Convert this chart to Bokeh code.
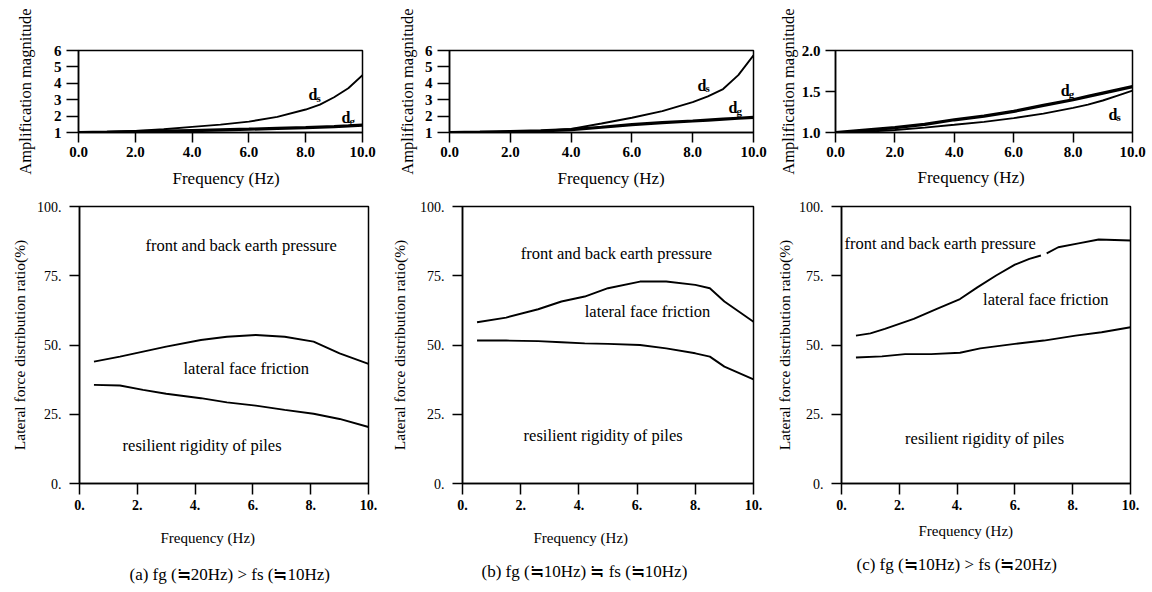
from bokeh.plotting import figure
from bokeh.models import Range1d, FixedTicker, Title
from bokeh.layouts import row, column
from bokeh.core.properties import value
from bokeh.embed import file_html
from bokeh.resources import INLINE

# ---------------- data ----------------
freq_top = [0, 1, 2, 3, 4, 5, 6, 7, 8, 8.5, 9, 9.5, 10]
a_ds = [1.0, 1.03, 1.1, 1.2, 1.34, 1.48, 1.66, 1.95, 2.4, 2.7, 3.15, 3.7, 4.5]
a_dg = [1.0, 1.02, 1.05, 1.08, 1.12, 1.16, 1.2, 1.25, 1.3, 1.33, 1.36, 1.4, 1.45]
b_ds = [1.0, 1.02, 1.05, 1.1, 1.22, 1.55, 1.9, 2.3, 2.85, 3.2, 3.65, 4.5, 5.7]
b_dg = [1.0, 1.02, 1.05, 1.1, 1.18, 1.32, 1.48, 1.6, 1.7, 1.76, 1.82, 1.87, 1.92]
c_dg = [1.0, 1.03, 1.06, 1.1, 1.155, 1.2, 1.257, 1.33, 1.4, 1.44, 1.48, 1.52, 1.56]
c_ds = [1.0, 1.01, 1.03, 1.06, 1.094, 1.13, 1.175, 1.23, 1.3, 1.34, 1.39, 1.45, 1.51]

freq_a = [0.5, 1.4, 2.2, 3.0, 4.2, 5.1, 6.1, 7.1, 8.1, 9.0, 10.0]
a_upper = [44.0, 45.8, 47.6, 49.4, 51.8, 53.0, 53.6, 53.0, 51.2, 47.0, 43.2]
a_lower = [35.6, 35.4, 33.8, 32.4, 30.8, 29.3, 28.1, 26.6, 25.2, 23.3, 20.4]

freq_b = [0.5, 1.5, 2.6, 3.4, 4.2, 5.0, 6.1, 7.0, 8.0, 8.5, 9.0, 10.0]
b_upper = [58.2, 59.9, 62.9, 65.7, 67.5, 70.5, 72.9, 72.9, 71.7, 70.5, 65.7, 58.4]
b_lower = [51.6, 51.6, 51.4, 51.0, 50.6, 50.4, 50.0, 48.8, 47.0, 45.8, 42.2, 37.6]

nan = float("nan")
freq_c_up = [0.5, 1.0, 1.5, 2.5, 3.3, 4.1, 4.7, 5.35, 6.0, 6.5, 6.9, nan, 7.1, 7.5, 8.2, 8.9, 10.0]
c_upper = [53.4, 54.2, 55.8, 59.4, 63.0, 66.6, 70.8, 75.1, 79.0, 81.1, 82.3, nan, 83.1, 85.3, 86.7, 88.1, 87.7]
freq_c_lo = [0.5, 1.4, 2.2, 3.1, 4.1, 4.8, 6.0, 7.0, 8.1, 9.0, 10.0]
c_lower = [45.5, 45.9, 46.7, 46.7, 47.2, 48.8, 50.4, 51.6, 53.4, 54.6, 56.4]

top_xticks = [0, 2, 4, 6, 8, 10]
top_xlabels = ["0.0", "2.0", "4.0", "6.0", "8.0", "10.0"]
top_yticks_ab = [1, 2, 3, 4, 5, 6]
top_ylabels_ab = ["1", "2", "3", "4", "5", "6"]
top_yticks_c = [1.0, 1.5, 2.0]
top_ylabels_c = ["1.0", "1.5", "2.0"]
bot_xticks = [0, 2, 4, 6, 8, 10]
bot_xlabels = ["0.", "2.", "4.", "6.", "8.", "10."]
bot_yticks = [0, 25, 50, 75, 100]
bot_ylabels = ["0.", "25.", "50.", "75.", "100."]

region_names = ["front and back earth pressure", "lateral face friction", "resilient rigidity of piles"]
captions = ["(a) fg (≒20Hz) > fs (≒10Hz)", "(b) fg (≒10Hz) ≒ fs (≒10Hz)", "(c) fg (≒10Hz) > fs (≒20Hz)"]

# label anchor positions (data coords)
region_pos_a = ([2.28, 3.6, 1.49], [86, 41.4, 13.7])
region_pos_b = ([2.0, 4.2, 2.1], [83, 62, 17.3])
region_pos_c = ([0.1, 4.9, 2.2], [86.5, 66.3, 16.3])
dlab_a = ([8.1, 9.26], [3.3, 1.9], ["s", "g"])
dlab_b = ([8.16, 9.18], [3.87, 2.52], ["s", "g"])
dlab_c = ([7.58, 9.19], [1.51, 1.22], ["g", "s"])

SERIF = "Liberation Serif"
TOP_H = 198
BOT_H = 394


def make_fig(w, h, bl, br, bt, bb, yr):
    p = figure(width=w, height=h, x_range=Range1d(0, 10), y_range=Range1d(*yr),
               output_backend="svg", toolbar_location=None,
               min_border_left=bl, min_border_right=br, min_border_top=bt, min_border_bottom=bb)
    p.grid.visible = False
    p.outline_line_color = "black"
    p.outline_line_width = 1.5
    p.background_fill_color = "white"
    p.border_fill_color = "white"
    for ax in (p.xaxis[0], p.yaxis[0]):
        ax.axis_line_width = 1.5
        ax.major_tick_line_width = 1.5
        ax.minor_tick_line_color = None
        ax.major_tick_in = 0
        ax.major_label_text_font = SERIF
        ax.major_label_text_color = "black"
        ax.axis_label_text_font = SERIF
        ax.axis_label_text_font_style = "normal"
        ax.axis_label_text_color = "black"
    return p


def set_ticks(ax, ticks, labels):
    ax.ticker = FixedTicker(ticks=ticks)
    ax.major_label_overrides = {t: l for t, l in zip(ticks, labels)}


def top_panel(w, bl, br, ds, dg, yr, yt, yl, dlab, xlab_standoff, xlab_off,
              ytick_out, ylab_standoff):
    bt = 50
    p = make_fig(w, TOP_H, bl, br, bt, TOP_H - bt - 82, yr)
    set_ticks(p.xaxis[0], top_xticks, top_xlabels)
    set_ticks(p.yaxis[0], yt, yl)
    p.xaxis.major_tick_out = 10
    p.xaxis.major_label_standoff = 4
    p.xaxis.major_label_text_font_size = "15px"
    p.xaxis.major_label_text_font_style = "bold"
    p.yaxis.major_tick_out = ytick_out
    p.yaxis.major_label_standoff = 5
    p.yaxis.major_label_text_font_size = "15px"
    p.yaxis.major_label_text_font_style = "bold"
    p.yaxis.axis_label = "Amplification magnitude"
    p.yaxis.axis_label_text_font_size = "16.5px"
    p.yaxis.axis_label_standoff = ylab_standoff
    p.line(freq_top, ds, line_color="black", line_width=1.9)
    p.line(freq_top, dg, line_color="black", line_width=3.2)
    xs, ys, subs = dlab
    p.text(xs, ys, text=["d", "d"], text_font=value(SERIF), text_font_size="16px",
           text_font_style="bold", text_baseline="alphabetic", text_color="black")
    p.text(xs, ys, text=subs, text_font=value(SERIF), text_font_size="11px",
           text_font_style="bold", text_baseline="alphabetic", text_color="black",
           x_offset=8, y_offset=3)
    t = Title(text="Frequency (Hz)", align="left", text_font=SERIF, text_font_size="17px",
              text_font_style="normal", standoff=xlab_standoff, offset=xlab_off, text_color="black")
    p.add_layout(t, "below")
    return p


def bottom_panel(w, bl, br, xs_up, up, xs_lo, lo, rpos, cap,
                 freq_standoff, freq_off, cap_standoff, cap_off, ylab_standoff):
    bt = 8
    fh = 277
    p = make_fig(w, BOT_H, bl, br, bt, BOT_H - bt - fh, (0, 100))
    set_ticks(p.xaxis[0], bot_xticks, bot_xlabels)
    set_ticks(p.yaxis[0], bot_yticks, bot_ylabels)
    p.xaxis.major_tick_out = 11
    p.xaxis.major_label_standoff = 5
    p.xaxis.major_label_text_font_size = "14px"
    p.xaxis.major_label_text_font_style = "bold"
    p.yaxis.major_tick_out = 10
    p.yaxis.major_label_standoff = 8
    p.yaxis.major_label_text_font_size = "14px"
    p.yaxis.axis_label = "Lateral force distribution ratio(%)"
    p.yaxis.axis_label_text_font_size = "15.5px"
    p.yaxis.axis_label_standoff = ylab_standoff
    p.line(xs_up, up, line_color="black", line_width=1.9)
    p.line(xs_lo, lo, line_color="black", line_width=1.9)
    p.text(rpos[0], rpos[1], text=region_names, text_font=value(SERIF), text_font_size="16.5px",
           text_baseline="middle", text_align="left", text_color="black")
    t1 = Title(text="Frequency (Hz)", align="left", text_font=SERIF, text_font_size="15px",
               text_font_style="normal", standoff=freq_standoff, offset=freq_off, text_color="black")
    p.add_layout(t1, "below")
    t2 = Title(text=cap, align="left", vertical_align="top", text_font=SERIF, text_font_size="17px",
               text_font_style="normal", standoff=cap_standoff, offset=cap_off, text_color="black")
    p.add_layout(t2, "below")
    return p


ta = top_panel(386, 78, 24, a_ds, a_dg, (1, 6), top_yticks_ab, top_ylabels_ab, dlab_a, 14, 94, 12, 16)
tb = top_panel(386, 63, 19, b_ds, b_dg, (1, 6), top_yticks_ab, top_ylabels_ab, dlab_b, 14, 108, 12, 5)
tc = top_panel(380, 63, 20, c_dg, c_ds, (1.0, 2.0), top_yticks_c, top_ylabels_c, dlab_c, 12, 82, 10, 1)
# in panel c the thicker line is d_g
tc.renderers[0].glyph.line_width = 3.2
tc.renderers[1].glyph.line_width = 1.9

ba = bottom_panel(386, 79, 18, freq_a, a_upper, freq_a, a_lower, region_pos_a, captions[0], 30, 81, 8, 50, 6)
bb = bottom_panel(386, 76, 19, freq_b, b_upper, freq_b, b_lower, region_pos_b, captions[1], 30, 71, 2, 19, 9)
bc = bottom_panel(380, 64, 22, freq_c_up, c_upper, freq_c_lo, c_lower, region_pos_c, captions[2], 16, 77, 17, 15, 3)

layout = column(row(ta, tb, tc), row(ba, bb, bc))

open("out.html", "w").write(file_html(layout, INLINE))
